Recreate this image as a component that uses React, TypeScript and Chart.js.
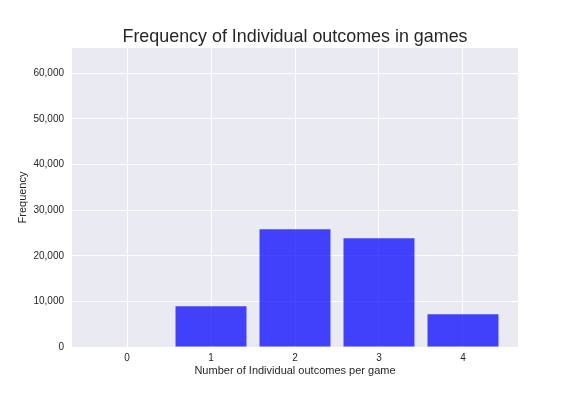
import React, { useEffect, useRef } from "react";
import { Chart, registerables } from "chart.js";

Chart.register(...registerables);

const categories = [0, 1, 2, 3, 4];
const frequencies = [0, 8930, 25830, 23850, 7180];
const yTicks = [0, 10000, 20000, 30000, 40000, 50000, 60000];
const titleText = "Frequency of Individual outcomes in games";
const xLabel = "Number of Individual outcomes per game";
const yLabel = "Frequency";

const FONT = "'Liberation Sans', Arial, sans-serif";
const TEXT = "#262626";

const bgPlugin = {
  id: "bgPlugin",
  beforeDraw(chart: any) {
    const { ctx, chartArea } = chart;
    ctx.save();
    ctx.fillStyle = "#EAEAF2";
    ctx.fillRect(chartArea.left, chartArea.top, chartArea.right - chartArea.left, chartArea.bottom - chartArea.top);
    ctx.restore();
  },
  afterDraw(chart: any) {
    const { ctx, chartArea } = chart;
    ctx.save();
    ctx.fillStyle = TEXT;
    ctx.font = `17.9px ${FONT}`;
    ctx.textAlign = "center";
    ctx.textBaseline = "alphabetic";
    ctx.fillText(titleText, (chartArea.left + chartArea.right) / 2, 41.8);
    ctx.restore();
  },
};

export default function App() {
  const ref = useRef<HTMLCanvasElement>(null);
  useEffect(() => {
    const chart = new Chart(ref.current!, {
      type: "bar",
      data: {
        datasets: [
          {
            data: categories.map((c, i) => ({ x: c, y: frequencies[i] })),
            backgroundColor: "rgba(0,0,255,0.72)",
            borderWidth: 0,
            barPercentage: 0.845,
            categoryPercentage: 1,
          },
        ],
      },
      options: {
        animation: false,
        responsive: false,
        maintainAspectRatio: false,
        layout: { padding: { left: 0, right: 58, top: 48, bottom: 0 } },
        plugins: {
          legend: { display: false },
          tooltip: { enabled: false },
          title: { display: false },
        },
        scales: {
          x: {
            type: "linear",
            offset: false,
            min: -0.655,
            max: 4.655,
            afterBuildTicks(scale: any) {
              scale.ticks = categories.map((v) => ({ value: v }));
            },
            afterFit(scale: any) {
              scale.height = 49;
            },
            grid: { color: "#ffffff", lineWidth: 1, drawTicks: false, offset: false },
            border: { display: false },
            ticks: {
              color: TEXT,
              font: { family: FONT, size: 10 },
              padding: 5,
              callback: (v: any) => String(v),
            },
            title: {
              display: true,
              text: xLabel,
              color: TEXT,
              font: { family: FONT, size: 11 },
              padding: { top: 0, bottom: 18.4 },
            },
          },
          y: {
            type: "linear",
            min: 0,
            max: 65550,
            afterBuildTicks(scale: any) {
              scale.ticks = yTicks.map((v) => ({ value: v }));
            },
            afterFit(scale: any) {
              scale.width = 72;
            },
            grid: { color: "#ffffff", lineWidth: 1, drawTicks: false },
            border: { display: false },
            ticks: {
              color: TEXT,
              font: { family: FONT, size: 10 },
              padding: 8,
              callback: (v: any) => Number(v).toLocaleString("en-US"),
            },
            title: {
              display: true,
              text: yLabel,
              color: TEXT,
              font: { family: FONT, size: 11 },
              padding: { top: 16.7, bottom: 0 },
            },
          },
        },
      },
      plugins: [bgPlugin],
    } as any);
    return () => chart.destroy();
  }, []);
  return (
    <div style={{ position: "fixed", left: 0, top: 0, width: 576, height: 396, background: "#fff" }}>
      <canvas ref={ref} width={576} height={396} style={{ width: 576, height: 396, display: "block" }} />
    </div>
  );
}
